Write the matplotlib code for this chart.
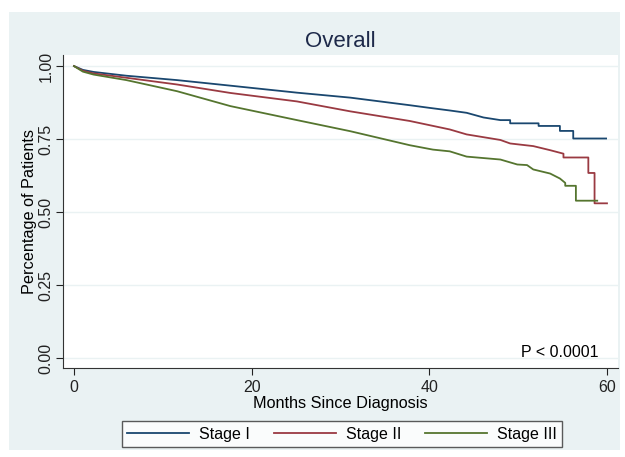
import matplotlib.pyplot as plt
from matplotlib.patches import Rectangle

plt.rcParams['font.family'] = ['Liberation Sans', 'DejaVu Sans']

# Kaplan-Meier curves (months, survival)
t1 = [0, 1, 2.2, 5.9, 11.6, 17.6, 25.1, 31.1, 37.8, 40, 42.3, 44.2, 46.1, 48, 49.1,
      49.1, 52.3, 52.3, 54.7, 54.7, 56.2, 56.2, 59.9]
s1 = [1.0, 0.987, 0.980, 0.967, 0.952, 0.933, 0.909, 0.892, 0.866, 0.857, 0.848, 0.840,
      0.824, 0.815, 0.815, 0.804, 0.804, 0.795, 0.795, 0.778, 0.778, 0.752, 0.752]

t2 = [0, 1, 2.2, 5.9, 11.6, 17.6, 25.1, 31.1, 37.8, 42.3, 44.2, 48, 49.1, 51.7, 53.6,
      55.1, 55.1, 57.9, 57.9, 58.6, 58.6, 60]
s2 = [1.0, 0.984, 0.975, 0.960, 0.937, 0.908, 0.879, 0.845, 0.812, 0.783, 0.766, 0.747,
      0.735, 0.726, 0.712, 0.700, 0.687, 0.687, 0.634, 0.634, 0.530, 0.530]

t3 = [0, 1, 2.2, 5.9, 11.6, 17.6, 25.1, 31.1, 37.8, 40.4, 42.3, 44.2, 48, 49.9, 51,
      51.7, 53.6, 54.7, 55.3, 55.3, 56.5, 56.5, 58.9]
s3 = [1.0, 0.981, 0.971, 0.952, 0.914, 0.863, 0.815, 0.777, 0.729, 0.714, 0.708, 0.690,
      0.680, 0.663, 0.661, 0.646, 0.632, 0.615, 0.600, 0.590, 0.590, 0.539, 0.539]

labels = ['Stage I', 'Stage II', 'Stage III']
colors = ['#1a476f', '#9a3a42', '#55752f']
yticks = [0, 0.25, 0.5, 0.75, 1.0]
xticks = [0, 20, 40, 60]

fig = plt.figure(figsize=(6.25, 4.57), dpi=100)
fig.patches.append(Rectangle((9 / 625, 1 - 450 / 457), 611 / 625, 438 / 457,
                             transform=fig.transFigure, facecolor='#eaf2f3',
                             edgecolor='none', zorder=-10))

ax = fig.add_axes([63 / 625, 1 - 368 / 457, 555 / 625, 313 / 457])
ax.set_facecolor('white')
for t, s, c, lab in zip([t1, t2, t3], [s1, s2, s3], colors, labels):
    ax.plot(t, s, color=c, lw=1.3, label=lab)

ax.set_xlim(-1.24, 61.24)
ax.set_ylim(-0.034, 1.038)
ax.set_xticks(xticks)
ax.set_yticks(yticks)
ax.set_yticklabels(['%.2f' % v for v in yticks], rotation=90, va='center')
ax.tick_params(direction='out', length=5, width=0.8, labelsize=11.5, colors='#222222')
ax.tick_params(axis='y', pad=2)
ax.grid(axis='y', color='#eaf2f3', lw=1.0)
ax.set_axisbelow(True)
for sp in ['top', 'right']:
    ax.spines[sp].set_visible(False)
for sp in ['left', 'bottom']:
    ax.spines[sp].set_color('#333333')
    ax.spines[sp].set_linewidth(0.8)

ax.set_title('Overall', fontsize=16, color='#1e2a4a', pad=6)
ax.set_xlabel('Months Since Diagnosis', fontsize=11.7, labelpad=1)
ax.set_ylabel('Percentage of Patients', fontsize=11.7, labelpad=1)
ax.text(0.964, 0.048, 'P < 0.0001', transform=ax.transAxes, ha='right', va='center',
        fontsize=11.5)

fig.legend(loc='center', bbox_to_anchor=(342 / 625, 1 - 434 / 457), ncol=3,
           fontsize=11.5, frameon=True, fancybox=False, edgecolor='#333333',
           handlelength=3.9, columnspacing=1.5, handletextpad=0.6,
           borderpad=0.35)

fig.savefig('out.png', dpi=100)
